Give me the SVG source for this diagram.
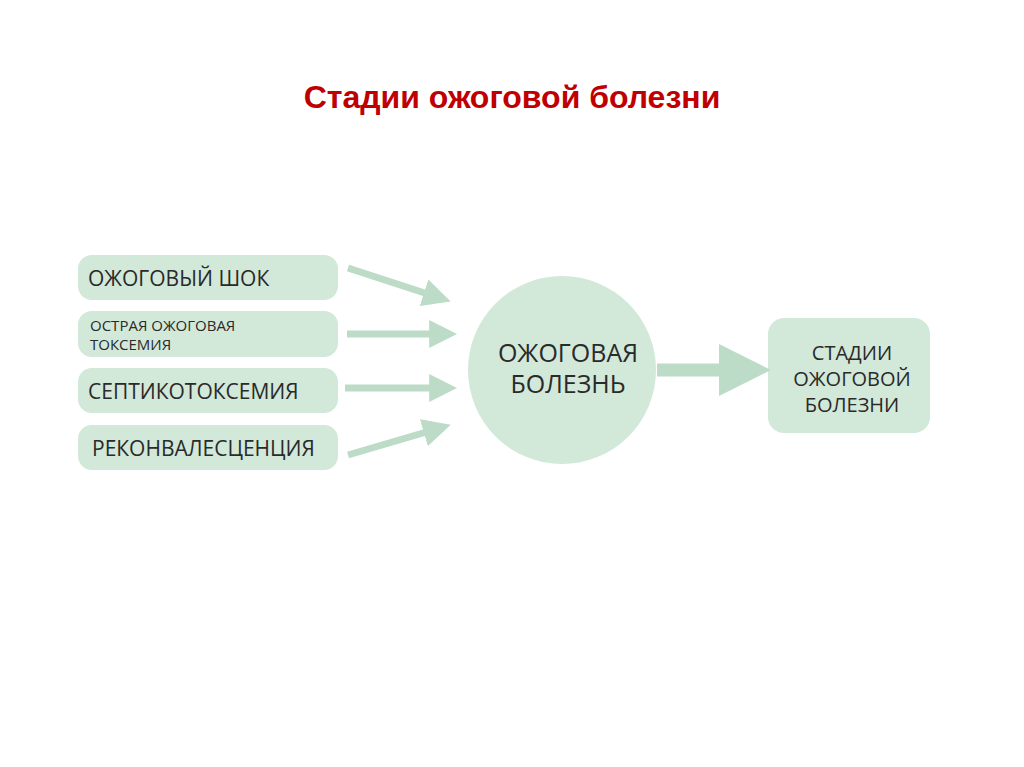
<svg xmlns="http://www.w3.org/2000/svg" width="1024" height="767" viewBox="0 0 1024 767">
<style>
.box{fill:#d2e8d9}
.t{font-family:"Open Sans","DejaVu Sans",sans-serif;fill:#2a2a2a}
.a{stroke:#bcdcc8;stroke-width:7;fill:none;marker-end:url(#ah)}
</style>
<defs><marker id="ah" viewBox="0 0 10 10" refX="6" refY="5" markerWidth="4" markerHeight="4" orient="auto" markerUnits="strokeWidth"><path d="M0,0L10,5L0,10z" fill="#bcdcc8"/></marker></defs>
<rect width="1024" height="767" fill="#fff"/>
<text x="512" y="108" text-anchor="middle" font-family="Liberation Sans,sans-serif" font-weight="bold" font-size="32" fill="#c00000">Стадии ожоговой болезни</text>
<g id="n1"><rect class="box" x="78" y="255" width="260" height="45" rx="14"/><text class="t" x="88" y="286" font-size="21">ОЖОГОВЫЙ ШОК</text></g>
<g id="n2"><rect class="box" x="78" y="311" width="260" height="46" rx="14"/><text class="t" x="90" y="331" font-size="15">ОСТРАЯ ОЖОГОВАЯ</text><text class="t" x="90" y="350" font-size="15">ТОКСЕМИЯ</text></g>
<g id="n3"><rect class="box" x="78" y="368" width="260" height="45" rx="14"/><text class="t" x="88" y="399" font-size="21">СЕПТИКОТОКСЕМИЯ</text></g>
<g id="n4"><rect class="box" x="78" y="425" width="260" height="45" rx="14"/><text class="t" x="92" y="456" font-size="21">РЕКОНВАЛЕСЦЕНЦИЯ</text></g>
<g id="c"><circle class="box" cx="562" cy="370" r="94"/><text class="t" x="568" y="362" font-size="25" text-anchor="middle">ОЖОГОВАЯ</text><text class="t" x="568" y="393" font-size="25" text-anchor="middle">БОЛЕЗНЬ</text></g>
<g id="r"><rect class="box" x="768" y="318" width="162" height="115" rx="16"/><text class="t" x="852" y="360" font-size="20" text-anchor="middle">СТАДИИ</text><text class="t" x="852" y="386" font-size="20" text-anchor="middle">ОЖОГОВОЙ</text><text class="t" x="852" y="412" font-size="20" text-anchor="middle">БОЛЕЗНИ</text></g>
<g id="connectors">
<path class="a" d="M348,268L440,298"/>
<path class="a" d="M347,334L446,334"/>
<path class="a" d="M345,388L446,388"/>
<path class="a" d="M348,455L440,428"/>
<path class="a" d="M657,370L750,370" style="stroke-width:13"/>
</g>
</svg>
